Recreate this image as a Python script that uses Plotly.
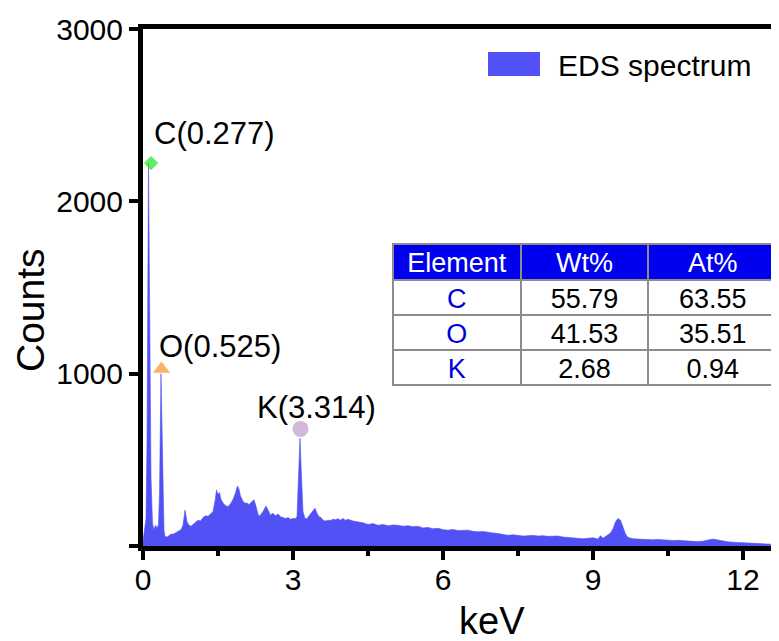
import plotly.graph_objects as go

# ---------------- data ----------------
energy_kev = [0.00, 0.03, 0.06, 0.08, 0.10, 0.11, 0.13, 0.16, 0.19, 0.22, 0.25, 0.28, 0.31,
              0.33, 0.36, 0.38, 0.40, 0.42, 0.44, 0.48, 0.52, 0.56, 0.60, 0.64, 0.68, 0.72, 0.76,
              0.80, 0.84, 0.88, 0.92, 0.96, 1.00, 1.05, 1.10, 1.15, 1.20, 1.25, 1.30, 1.35, 1.40,
              1.44, 1.47, 1.50, 1.53, 1.56, 1.60, 1.65, 1.70, 1.75, 1.80, 1.84, 1.89, 1.92, 1.95,
              2.00, 2.04, 2.08, 2.12, 2.17, 2.22, 2.26, 2.30, 2.33, 2.40, 2.46, 2.50, 2.55, 2.60,
              2.65, 2.70, 2.75, 2.80, 2.85, 2.90, 2.95, 3.00, 3.04, 3.08, 3.11, 3.14, 3.17, 3.20,
              3.24, 3.28, 3.32, 3.36, 3.40, 3.44, 3.48, 3.52, 3.56, 3.60, 3.65, 3.70, 3.75, 3.80,
              3.85, 3.90, 3.95, 4.00, 4.05, 4.10, 4.20, 4.30, 4.40, 4.50, 4.60, 4.70, 4.80, 4.90,
              5.00, 5.10, 5.20, 5.30, 5.40, 5.50, 5.60, 5.70, 5.80, 5.90, 6.00, 6.10, 6.20, 6.30,
              6.40, 6.50, 6.60, 6.70, 6.80, 6.90, 7.00, 7.10, 7.20, 7.30, 7.40, 7.50, 7.60, 7.70,
              7.80, 7.90, 8.00, 8.10, 8.20, 8.30, 8.40, 8.50, 8.60, 8.70, 8.80, 8.90, 9.00, 9.10,
              9.15, 9.20, 9.30, 9.35, 9.40, 9.45, 9.50, 9.55, 9.60, 9.65, 9.70, 9.75, 9.80, 9.90,
              10.00, 10.10, 10.20, 10.30, 10.40, 10.50, 10.60, 10.70, 10.80, 10.90, 11.00, 11.10,
              11.20, 11.30, 11.40, 11.50, 11.60, 11.70, 11.80, 11.90, 12.00, 12.20, 12.40, 12.60,
              12.75]
counts = [30, 110, 160, 600, 1800, 2222, 1500, 400, 130, 95, 120, 105, 125,
          300, 1000, 700, 250, 90, 55, 52, 60, 70, 68, 75, 80, 88, 95,
          120, 209, 140, 120, 115, 125, 140, 150, 145, 165, 175, 172, 185, 200,
          260, 325, 300, 310, 270, 250, 235, 228, 245, 270, 300, 348, 330, 290,
          260, 248, 250, 240, 255, 268, 230, 185, 172, 200, 232, 205, 180, 190,
          175, 185, 170, 165, 160, 165, 155, 160, 158, 170, 400, 625, 400, 200,
          160, 158, 175, 190, 205, 219, 190, 170, 165, 150, 145, 150, 148, 155,
          152, 158, 150, 160, 150, 155, 145, 140, 135, 125, 130, 120, 125, 118,
          122, 120, 115, 118, 112, 115, 105, 108, 100, 103, 95, 92, 96, 90,
          93, 92, 85, 82, 84, 78, 76, 72, 68, 62, 65, 60, 58, 60,
          62, 58, 60, 56, 55, 58, 52, 50, 46, 44, 42, 45, 48, 40,
          60, 45, 65, 75, 100, 140, 160, 150, 110, 70, 50, 45, 42, 40,
          38, 40, 36, 38, 35, 35, 32, 33, 30, 28, 27, 26,
          28, 35, 40, 35, 28, 24, 22, 20, 18, 15, 13, 10,
          9]

peak_labels = ["C(0.277)", "O(0.525)", "K(3.314)"]
peak_kev = [0.16, 0.37, 3.15]
peak_counts = [2222, 1027, 679]
peak_symbols = ["diamond", "triangle-up", "circle"]
peak_colors = ["#1EE61E", "#F3962A", "#BE9BCB"]
peak_sizes = [11, 15, 16]

table_header = ["Element", "Wt%", "At%"]
table_elements = ["C", "O", "K"]
table_wt = ["55.79", "41.53", "2.68"]
table_at = ["63.55", "35.51", "0.94"]

x_tickvals = [0, 3, 6, 9, 12]
x_minor_tickvals = [1.5, 4.5, 7.5, 10.5]
y_tickvals = [0, 1000, 2000, 3000]
y_ticktext = ["", "1000", "2000", "3000"]

legend_text = "EDS spectrum"
x_title = "keV"
y_title = "Counts"

# ---------------- layout geometry ----------------
# the page body has an 8px margin, so the figure is drawn 8px smaller and offset
OFF = 8
FIG_W, FIG_H = 779 - OFF, 641 - OFF
L, R, T, B = 143 - OFF, 0, 29 - OFF, 641 - 546
PW = FIG_W - L - R
PH = FIG_H - T - B


def fx(px):
    return (px - OFF - L) / PW


def fy(py):
    return (FIG_H - B - (py - OFF)) / PH


FONT = "Arial, Liberation Sans, sans-serif"
SPEC_COLOR = "#5151F5"

fig = go.Figure()

fig.add_trace(go.Scatter(
    x=energy_kev, y=counts, mode="lines", fill="tozeroy",
    line=dict(color=SPEC_COLOR, width=0.6), fillcolor=SPEC_COLOR,
    showlegend=False, hoverinfo="skip"))

fig.add_trace(go.Scatter(
    x=peak_kev, y=peak_counts, mode="markers",
    marker=dict(symbol=peak_symbols, color=peak_colors, size=peak_sizes, line=dict(width=0)),
    showlegend=False, cliponaxis=False))

fig.add_trace(go.Table(
    domain=dict(x=[fx(393), fx(778)], y=[fy(520), fy(244)]),
    columnwidth=[128, 128, 129],
    header=dict(values=table_header, fill_color="#0000EE",
                font=dict(family=FONT, size=27, color="white"),
                line=dict(color="#8C8C8C", width=2), height=36, align="center"),
    cells=dict(values=[table_elements, table_wt, table_at], fill_color="white",
               font=dict(family=FONT, size=27, color=[["#0000DD"] * 3, ["black"] * 3, ["black"] * 3]),
               line=dict(color="#8C8C8C", width=2), height=35, align="center"),
))

annotations = [
    dict(text=peak_labels[0], x=fx(214), y=fy(133)),
    dict(text=peak_labels[1], x=fx(220), y=fy(346)),
    dict(text=peak_labels[2], x=fx(316), y=fy(407)),
]
for a in annotations:
    a.update(xref="paper", yref="paper", showarrow=False, xanchor="center", yanchor="middle",
             font=dict(family=FONT, size=31, color="black"))

annotations.append(dict(text=legend_text, x=fx(556), y=fy(65), xref="paper", yref="paper",
                        showarrow=False, xanchor="left", yanchor="middle",
                        font=dict(family=FONT, size=30, color="black")))
annotations.append(dict(text=x_title, x=fx(492), y=fy(621), xref="paper", yref="paper",
                        showarrow=False, xanchor="center", yanchor="middle",
                        font=dict(family=FONT, size=38, color="black")))
annotations.append(dict(text=y_title, x=fx(30), y=fy(310), xref="paper", yref="paper",
                        showarrow=False, xanchor="center", yanchor="middle", textangle=-90,
                        font=dict(family=FONT, size=39, color="black")))

shapes = [dict(type="rect", xref="paper", yref="paper", x0=fx(488), x1=fx(540),
               y0=fy(76), y1=fy(52), fillcolor=SPEC_COLOR, line=dict(width=0))]

fig.update_layout(
    width=FIG_W, height=FIG_H,
    margin=dict(l=L, r=R, t=T, b=B, pad=0),
    paper_bgcolor="white", plot_bgcolor="white",
    font=dict(family=FONT, color="black"),
    showlegend=False,
    annotations=annotations, shapes=shapes,
    xaxis=dict(range=[0, PW / 50.0], tickvals=x_tickvals, ticks="outside", ticklen=9, tickwidth=4,
               tickcolor="black", showline=True, linecolor="black", linewidth=5, mirror=True,
               showgrid=False, zeroline=False, tickfont=dict(family=FONT, size=30),
               ticklabelstandoff=-6,
               minor=dict(tickvals=x_minor_tickvals, ticks="outside", ticklen=5, tickwidth=4,
                          tickcolor="black")),
    yaxis=dict(range=[0, 3000], tickvals=y_tickvals, ticktext=y_ticktext, ticks="outside",
               ticklen=9, tickwidth=4, tickcolor="black", showline=True, linecolor="black",
               linewidth=5, mirror=False, showgrid=False, zeroline=False,
               tickfont=dict(family=FONT, size=30)),
)

fig.write_html("out.html")
